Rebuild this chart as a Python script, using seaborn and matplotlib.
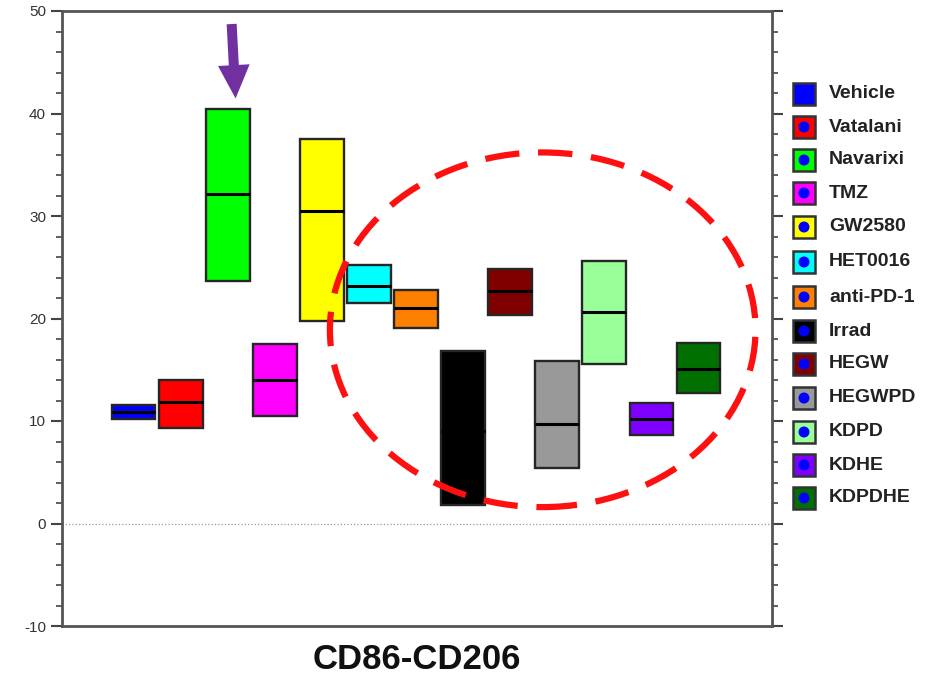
import numpy as np
import pandas as pd
import matplotlib
matplotlib.use("Agg")
import matplotlib.pyplot as plt
import seaborn as sns
from matplotlib.patches import Ellipse, Rectangle

# ---- data ----
groups = ["Vehicle", "Vatalani", "Navarixi", "TMZ", "GW2580", "HET0016", "anti-PD-1",
          "Irrad", "HEGW", "HEGWPD", "KDPD", "KDHE", "KDPDHE"]
low = [10.2, 9.3, 23.7, 10.5, 19.8, 21.5, 19.1, 1.8, 20.3, 5.4, 15.6, 8.6, 12.7]
median = [10.9, 11.9, 32.1, 14.0, 30.5, 23.2, 21.0, 9.0, 22.7, 9.7, 20.6, 10.2, 15.1]
high = [11.6, 14.0, 40.4, 17.5, 37.5, 25.2, 22.8, 16.8, 24.8, 15.9, 25.6, 11.8, 17.6]
colors = ["#0000FF", "#FF0000", "#00FF00", "#FF00FF", "#FFFF00", "#00FFFF", "#FF8000",
          "#000000", "#800000", "#999999", "#99FF99", "#8000FF", "#007000"]
yticks = [-10, 0, 10, 20, 30, 40, 50]
xlabel = "CD86-CD206"

# long table: box spans low..high with median line
rows = []
for g, lo, md, hi in zip(groups, low, median, high):
    for v in (lo, lo, md, hi, hi):
        rows.append({"group": g, "value": v})
df = pd.DataFrame(rows)

sns.set_theme(style="ticks")
plt.rcParams["font.family"] = ["Liberation Sans", "DejaVu Sans"]
plt.rcParams["axes.unicode_minus"] = False

W, H = 925, 682
fig = plt.figure(figsize=(W / 100, H / 100), dpi=100)
ax = fig.add_axes([62 / W, 1 - 626 / H, 710 / W, 615 / H])

palette = dict(zip(groups, colors))
sns.boxplot(data=df, x="group", y="value", hue="group", order=groups, hue_order=groups,
            palette=palette, saturation=1, width=0.93, whis=0, showcaps=False,
            showfliers=False, linecolor="#262626", linewidth=1.7, legend=False,
            medianprops=dict(color="black", linewidth=2.2), ax=ax)

ax.set_xlim(-1.52, 13.56)
ax.set_ylim(-10, 50)
ax.axhline(0, color="#999999", lw=0.9, ls=":", zorder=0)

# axes styling
for s in ax.spines.values():
    s.set_color("#555555")
    s.set_linewidth(2)
ax.set_yticks(yticks)
ax.set_yticks(np.arange(-10, 51, 2), minor=True)
ax.tick_params(axis="y", which="both", left=True, right=True, labelright=False,
               direction="out", color="#444444", labelsize=11, labelcolor="#333333")
ax.tick_params(axis="y", which="major", length=8, width=1.5)
ax.tick_params(axis="y", which="minor", length=4, width=1.2)
ax.tick_params(axis="x", bottom=False, labelbottom=False)
ax.set_ylabel("")
ax.set_xlabel(xlabel, fontsize=25, fontweight="bold", labelpad=12, color="#111111")

# red dashed ellipse annotation
ell = Ellipse((8.69, 18.9), width=9.04, height=34.6, fill=False, edgecolor="#FF1010",
              lw=4.5, ls=(0, (5.5, 3)), zorder=5)
ax.add_patch(ell)

# purple arrow
ax.annotate("", xy=(2.17, 41.2), xytext=(2.08, 49.0),
            arrowprops=dict(arrowstyle="simple,head_width=1.9,head_length=2.0,tail_width=0.6",
                            color="#7030A0", lw=0), annotation_clip=False)

# legend drawn on figure
ys = [94, 127, 160, 193, 227, 262, 297, 331, 364, 398, 432, 465, 498]
for i, (g, c) in enumerate(zip(groups, colors)):
    yc = 1 - ys[i] / H
    sq = 22
    fig.add_artist(Rectangle((793 / W, yc - sq / 2 / H), sq / W, sq / H,
                             transform=fig.transFigure, facecolor=c,
                             edgecolor="#333333", lw=1.8))
    if i > 0:
        fig.add_artist(Ellipse((804 / W, yc), 11 / W, 11 / H, transform=fig.transFigure,
                               facecolor="#0000FF", edgecolor="none"))
    fig.text(829 / W, yc, g, fontsize=14, fontweight="bold", color="#222222",
             va="center", ha="left")

fig.savefig("out.png", dpi=100)
